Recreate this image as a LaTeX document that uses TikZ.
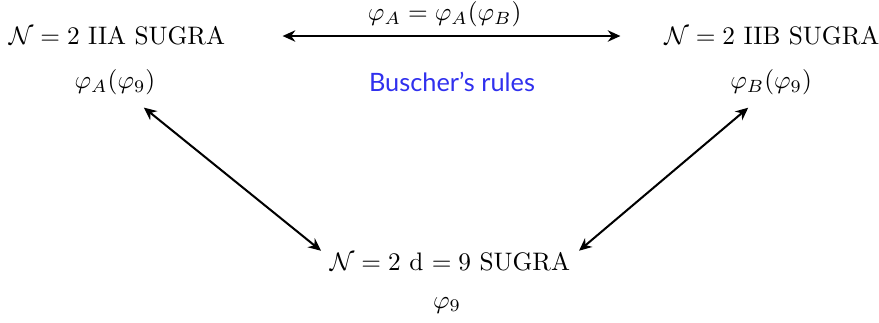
\documentclass[tikz,border=0pt]{standalone}
\usepackage{amsmath,amssymb}
\usepackage{fontspec}
\newfontfamily\rulesfont{Lato}
\usetikzlibrary{arrows.meta,positioning}
\definecolor{rulesblue}{RGB}{48,48,238}

\begin{document}
\begin{tikzpicture}[every node/.style={font=\normalsize},
  dual/.style={{Stealth[length=5pt,width=4.5pt]}-{Stealth[length=5pt,width=4.5pt]},line width=.8pt}]
\useasboundingbox (0,0) rectangle (12.208,4.472);
\node (iia) at (1.625,3.972) {$\mathcal{N}=2$ IIA SUGRA};
\node (iib) at (10.72,3.972) {$\mathcal{N}=2$ IIB SUGRA};
\node (phiA) at (1.597,3.333) {$\varphi_A(\varphi_9)$};
\node (phiB) at (10.71,3.333) {$\varphi_B(\varphi_9)$};
\node (dnine) at (6.25,0.833) {$\mathcal{N}=2$ d $=9$ SUGRA};
\node (phinine) at (6.208,0.236) {$\varphi_9$};
\node[font=\rulesfont,text=rulesblue] (rules) at (6.278,3.333) {Buscher’s rules};
\draw[dual,shorten <=19.2pt,shorten >=13.8pt] (iia) -- node[above=0pt] {$\varphi_A=\varphi_A(\varphi_B)$} (iib);
\draw[dual,shorten <=2.5pt] (phiA.-42) -- (dnine.175);
\draw[dual,shorten <=2.5pt] (phiB.-130) -- (dnine.5);
\end{tikzpicture}
\end{document}
